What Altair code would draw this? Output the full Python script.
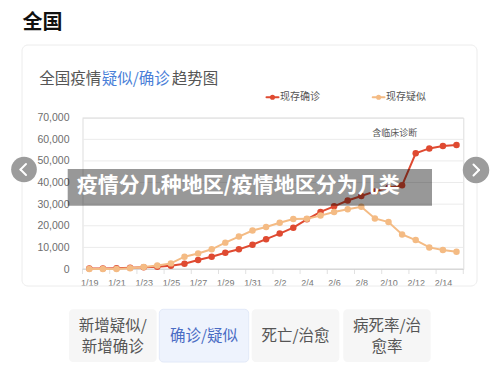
import altair as alt
import pandas as pd

# ---------------- data ----------------
days = ["1/19", "1/20", "1/21", "1/22", "1/23", "1/24", "1/25", "1/26", "1/27", "1/28",
        "1/29", "1/30", "1/31", "2/1", "2/2", "2/3", "2/4", "2/5", "2/6", "2/7",
        "2/8", "2/9", "2/10", "2/11", "2/12", "2/13", "2/14", "2/15"]
confirmed = [190, 270, 375, 530, 800, 1000, 1500, 2400, 4200, 5700,
             7500, 9100, 11200, 13800, 16400, 19100, 23000, 26400, 29000, 31700,
             33800, 35900, 37600, 38700, 53500, 55800, 56900, 57400]
suspected = [0, 50, 40, 390, 900, 1600, 2600, 5700, 7200, 9100,
             12200, 15000, 17800, 19400, 21400, 23100, 23200, 24700, 26400, 27600,
             28800, 23400, 21700, 16000, 13400, 10000, 8800, 8000]
y_ticks = [0, 10000, 20000, 30000, 40000, 50000, 60000, 70000]
series_names = ["现存确诊", "现存疑似"]

# ---------------- geometry / style ----------------
CJK = "Noto Sans CJK SC"
NUM = "Liberation Sans"
RED = "#df4a31"
ORANGE = "#f4bb84"
W, H = 380.8, 151.3
OX, OY = 82.5, 117.7  # page position of the plot area's top-left corner
N = len(days)


def px(X):
    return X - OX


def py(Y):
    return Y - OY


one = pd.DataFrame({"k": [0]})

df = pd.DataFrame({"i": list(range(N)), "day": days,
                   "confirmed": confirmed, "suspected": suspected})
grid_df = pd.DataFrame({"v": y_ticks[1:]})
base_df = pd.DataFrame({"v": y_ticks[:1]})
bounds_df = pd.DataFrame({"b": [i - 0.5 for i in range(0, N + 1, 2)]})

xscale = alt.Scale(domain=[-0.5, N - 0.5], nice=False, zero=False)
yscale = alt.Scale(domain=[0, 70000], nice=False)
arr = "[" + ",".join("'%s'" % d for d in days) + "]"
label_expr = "%s[datum.value]" % arr

xaxis = alt.Axis(values=list(range(0, N - 1, 2)), labelExpr=label_expr,
                 title=None, grid=False, ticks=False, domain=False,
                 labelFont=NUM, labelFontSize=9, labelColor="#777777",
                 labelPadding=9, labelAngle=0, labelFlush=False, labelOverlap=False)
yaxis = alt.Axis(values=y_ticks, labelExpr="format(datum.value, ',')", title=None,
                 grid=False, domain=False, ticks=False,
                 labelFont=NUM, labelFontSize=10.5, labelColor="#6e6e6e",
                 labelPadding=13.5)


def txt(s, X, Y, size, color, weight="normal", align="left", font=CJK):
    return alt.Chart(one).mark_text(
        text=s, align=align, baseline="middle", fontSize=size, color=color,
        fontWeight=weight, font=font
    ).encode(x=alt.value(px(X)), y=alt.value(py(Y)))


def box(X1, Y1, X2, Y2, fill, stroke="transparent", r=0, opacity=1.0, fill_opacity=1.0):
    return alt.Chart(one).mark_rect(
        fill=fill, stroke=stroke, cornerRadius=r, opacity=opacity,
        fillOpacity=fill_opacity, strokeWidth=1
    ).encode(x=alt.value(px(X1)), x2=alt.value(px(X2)),
             y=alt.value(py(Y1)), y2=alt.value(py(Y2)))


def seg(X1, Y1, X2, Y2, color, width):
    return alt.Chart(one).mark_rule(color=color, strokeWidth=width, strokeCap="round").encode(
        x=alt.value(px(X1)), x2=alt.value(px(X2)),
        y=alt.value(py(Y1)), y2=alt.value(py(Y2)))


def dot(X, Y, size, color):
    return alt.Chart(one).mark_circle(size=size, color=color, opacity=1).encode(
        x=alt.value(px(X)), y=alt.value(py(Y)))


layers = []

# card frame
layers.append(box(22, 45, 477, 286, "white", stroke="#ececec", r=6, fill_opacity=0))

# gridlines, baseline and boundary ticks (through the scales)
layers.append(alt.Chart(grid_df).mark_rule(color="#ebebeb", strokeWidth=1).encode(
    y=alt.Y("v:Q", scale=yscale, axis=yaxis), x=alt.value(0), x2=alt.value(W)))
layers.append(alt.Chart(base_df).mark_rule(color="#d4d4d4", strokeWidth=1).encode(
    y=alt.Y("v:Q", scale=yscale, axis=yaxis), x=alt.value(0), x2=alt.value(W)))
layers.append(alt.Chart(bounds_df).mark_tick(color="#d4d4d4", thickness=1, size=5,
                                             orient="vertical").encode(
    x=alt.X("b:Q", scale=xscale, axis=xaxis), y=alt.value(H + 2.5)))

base = alt.Chart(df).encode(x=alt.X("i:Q", scale=xscale, axis=xaxis))

# series
for col, colr in [("confirmed", RED), ("suspected", ORANGE)]:
    layers.append(base.mark_line(color=colr, strokeWidth=2).encode(
        y=alt.Y(col + ":Q", scale=yscale, axis=yaxis)))
    layers.append(base.mark_circle(color=colr, size=42, opacity=1).encode(
        y=alt.Y(col + ":Q", scale=yscale, axis=yaxis)))

# page title and chart title
layers.append(txt("全国", 22.5, 22.5, 20, "#111111", weight="bold"))
layers.append(txt("全国疫情", 39.3, 78.5, 15.5, "#555555"))
layers.append(txt("疑似/确诊", 101.7, 78.5, 15.5, "#4a7fd8"))
layers.append(txt("趋势图", 171.7, 78.5, 15.5, "#555555"))

# legend
layers.append(seg(266.5, 97.3, 278.5, 97.3, RED, 2))
layers.append(dot(272.5, 97.3, 26, RED))
layers.append(txt(series_names[0], 280, 97.3, 10, "#555555"))
layers.append(seg(372.7, 97.3, 384.5, 97.3, ORANGE, 2))
layers.append(dot(378.6, 97.3, 26, ORANGE))
layers.append(txt(series_names[1], 386, 97.3, 10, "#555555"))

# annotation
layers.append(txt("含临床诊断", 394.7, 133.3, 9, "#555555", align="center"))

# overlay banner
layers.append(box(67.7, 169, 432, 205.7, "black", opacity=0.4))
layers.append(txt("疫情分几种地区/疫情地区分为几类", 76.7, 186, 21, "white", weight="bold"))

# carousel arrows
layers.append(dot(24, 169.5, 660, "#9c9c9c"))
layers.append(seg(26, 164, 20.5, 169.5, "white", 2))
layers.append(seg(20.5, 169.5, 26, 175, "white", 2))
layers.append(dot(476, 170, 700, "#9c9c9c"))
layers.append(seg(473.5, 164.5, 479, 170, "white", 2))
layers.append(seg(479, 170, 473.5, 175.5, "white", 2))

# tabs
tabs = [(69, 156.7), (159.3, 248.7), (251.7, 339.3), (343.3, 430.7)]
for k, (a, b) in enumerate(tabs):
    if k == 1:
        layers.append(box(a, 309.3, b, 362, "#eef3fd", stroke="#e2e9f8", r=4))
    else:
        layers.append(box(a, 309.3, b, 362, "#f6f6f6", r=4))
layers.append(txt("新增疑似/", 112.8, 326.3, 15.5, "#555555", align="center"))
layers.append(txt("新增确诊", 112.8, 347, 15.5, "#555555", align="center"))
layers.append(txt("确诊/疑似", 204, 335.5, 15.5, "#4a6cc4", align="center"))
layers.append(txt("死亡/治愈", 295.5, 335.5, 15.5, "#555555", align="center"))
layers.append(txt("病死率/治", 387, 326.3, 15.5, "#555555", align="center"))
layers.append(txt("愈率", 387, 347, 15.5, "#555555", align="center"))

chart = alt.layer(*layers).properties(
    width=W, height=H, autosize="none",
    padding={"left": OX - 8, "top": OY - 8,
             "right": 484 - (OX - 8) - W, "bottom": 359 - (OY - 8) - H}
).configure_view(
    stroke="transparent", strokeWidth=0
).configure_axis(
    domain=False, ticks=False, grid=False
).configure(background="white")

chart.save("out.html", embed_options={"renderer": "svg", "actions": False})
